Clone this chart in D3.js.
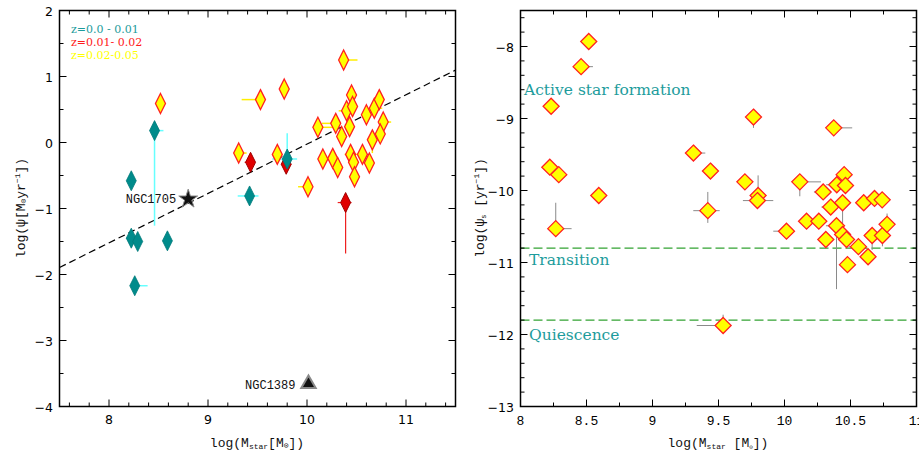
<!DOCTYPE html>
<html><head><meta charset="utf-8">
<script src="https://cdn.jsdelivr.net/npm/d3@7"></script>
<style>body{margin:0;background:#fff}svg{display:block}</style>
</head><body><svg id="c" width="919" height="452"></svg>
<script>
// ---------- Data (left panel: SFR vs stellar mass) ----------
const leftXTicks = [8, 9, 10, 11];
const leftYTicks = [-4, -3, -2, -1, 0, 1, 2];
// z = 0.0-0.01 : [x, y, xErrMinus, xErrPlus, yErrMinus, yErrPlus]
const tealPts = [
  [8.46, 0.18, 0, 0.09, 1.44, 0],
  [8.225, -0.58, 0, 0, 0, 0],
  [8.225, -1.45, 0, 0, 0, 0],
  [8.29, -1.50, 0, 0, 0, 0],
  [8.59, -1.49, 0, 0, 0, 0],
  [9.42, -0.81, 0.12, 0.09, 0, 0],
  [9.80, -0.25, 0.15, 0.10, 0.11, 0.39],
  [8.26, -2.17, 0, 0.13, 0, 0]
];
// z = 0.01-0.02
const redPts = [
  [9.43, -0.30, 0.06, 0, 0, 0],
  [9.79, -0.33, 0, 0, 0, 0],
  [10.39, -0.91, 0.08, 0.06, 0.77, 0]
];
// z = 0.02-0.05
const yellowPts = [
  [8.52, 0.59, 0, 0, 0, 0],
  [9.53, 0.65, 0.19, 0, 0, 0],
  [9.77, 0.81, 0, 0, 0.05, 0],
  [10.37, 1.25, 0, 0.14, 0, 0],
  [10.45, 0.72, 0, 0, 0, 0],
  [10.40, 0.48, 0.08, 0, 0, 0],
  [10.46, 0.545, 0, 0, 0.15, 0],
  [10.60, 0.42, 0, 0, 0, 0],
  [10.68, 0.52, 0, 0.08, 0, 0],
  [10.73, 0.65, 0, 0, 0, 0],
  [10.77, 0.31, 0, 0.08, 0, 0],
  [10.74, 0.13, 0, 0, 0, 0],
  [10.66, 0.04, 0, 0, 0.2, 0],
  [10.43, 0.24, 0, 0, 0.1, 0],
  [10.29, 0.29, 0.14, 0, 0, 0],
  [10.35, 0.09, 0, 0, 0, 0],
  [10.11, 0.23, 0, 0.17, 0, 0],
  [9.31, -0.16, 0, 0.08, 0, 0],
  [9.70, -0.18, 0, 0, 0, 0],
  [10.16, -0.25, 0.04, 0, 0, 0],
  [10.26, -0.24, 0, 0, 0, 0.12],
  [10.31, -0.38, 0, 0, 0, 0],
  [10.44, -0.18, 0.06, 0, 0, 0],
  [10.47, -0.30, 0, 0, 0, 0],
  [10.56, -0.18, 0.1, 0, 0, 0],
  [10.63, -0.31, 0, 0, 0, 0],
  [10.48, -0.52, 0, 0, 0.12, 0],
  [10.01, -0.67, 0.1, 0, 0, 0]
];
const specialPts = [
  {name: "NGC1705", x: 8.80, y: -0.857, shape: "star"},
  {name: "NGC1389", x: 10.015, y: -3.67, shape: "triangle"}
];
const fitLine = [[7.5, -1.894], [11.5, 1.097]];
const legendItems = [
  {text: "z=0.0 - 0.01", color: "#1d9c9c"},
  {text: "z=0.01- 0.02", color: "#ff1a1a"},
  {text: "z=0.02-0.05", color: "#ffff00"}
];

// ---------- Data (right panel: sSFR vs stellar mass) ----------
const rightXTicks = [8, 8.5, 9, 9.5, 10, 10.5, 11];
const rightXTickLabels = ["8", "8.5", "9", "9.5", "10", "10.5", "11"];
const rightYTicks = [-13, -12, -11, -10, -9, -8];
// [x, y, xErrMinus, xErrPlus, yErrMinus, yErrPlus]
const ssfrPts = [
  [8.517, -7.93, 0, 0, 0, 0],
  [8.459, -8.28, 0, 0.09, 0, 0],
  [8.232, -8.83, 0, 0, 0, 0],
  [9.765, -8.98, 0, 0, 0.15, 0],
  [10.373, -9.13, 0, 0.14, 0, 0],
  [9.31, -9.48, 0, 0.09, 0.1, 0],
  [8.222, -9.676, 0, 0, 0, 0],
  [8.29, -9.78, 0, 0, 0, 0],
  [8.593, -10.07, 0, 0, 0, 0],
  [8.267, -10.53, 0, 0.12, 0, 0.36],
  [9.439, -9.73, 0.06, 0, 0, 0],
  [9.419, -10.28, 0.11, 0.09, 0.17, 0.26],
  [9.70, -9.88, 0, 0, 0, 0],
  [9.80, -10.07, 0, 0, 0, 0.28],
  [9.795, -10.14, 0.11, 0.12, 0, 0],
  [10.015, -10.565, 0.1, 0, 0, 0],
  [10.116, -9.88, 0, 0.16, 0.2, 0],
  [10.167, -10.426, 0, 0, 0, 0],
  [10.26, -10.426, 0, 0, 0, 0],
  [10.293, -10.02, 0.07, 0, 0, 0],
  [10.313, -10.68, 0, 0, 0, 0],
  [10.35, -10.23, 0.07, 0, 0, 0],
  [10.394, -10.49, 0.08, 0, 0.88, 0],
  [10.396, -9.92, 0.08, 0, 0, 0],
  [10.44, -10.17, 0, 0, 0.3, 0],
  [10.452, -9.78, 0, 0, 0, 0],
  [10.462, -9.93, 0, 0, 0, 0],
  [10.44, -10.61, 0, 0, 0, 0],
  [10.47, -10.68, 0, 0, 0, 0],
  [10.56, -10.78, 0.07, 0, 0, 0],
  [10.477, -11.03, 0, 0, 0, 0],
  [10.60, -10.17, 0, 0, 0, 0],
  [10.633, -10.92, 0, 0, 0, 0],
  [10.664, -10.625, 0, 0, 0.2, 0],
  [10.682, -10.11, 0, 0, 0.1, 0],
  [10.74, -10.13, 0, 0.04, 0, 0],
  [10.742, -10.625, 0, 0, 0.15, 0],
  [10.777, -10.47, 0, 0, 0, 0.15],
  [9.535, -11.875, 0.2, 0, 0, 0.15]
];
const regimeLines = [-10.8, -11.8];
const regimeLabels = [
  {text: "Active star formation", y: -8.68},
  {text: "Transition", y: -11.04},
  {text: "Quiescence", y: -12.08}
];

// ---------- Drawing ----------
const svg = d3.select("#c");
const monoFont = "'Liberation Mono', 'DejaVu Sans Mono', monospace";
const sansFont = "'DejaVu Sans', sans-serif";
const serifFont = "'DejaVu Serif', 'Liberation Serif', serif";

function frame(g, x, y, xMinorStep, yMinorStep, xTicks, yTicks) {
  const [x0, x1] = x.range(), [y0, y1] = y.range();
  const xd = x.domain(), yd = y.domain();
  const xMinor = d3.range(Math.ceil(xd[0] / xMinorStep - 1e-9) * xMinorStep, xd[1] + 1e-9, xMinorStep);
  const yMinor = d3.range(Math.ceil(yd[0] / yMinorStep - 1e-9) * yMinorStep, yd[1] + 1e-9, yMinorStep);
  const t = g.append("g").attr("stroke", "#000").attr("stroke-width", 1);
  const isMaj = (v, arr) => arr.some(a => Math.abs(a - v) < 1e-6);
  xMinor.forEach(v => {
    const L = isMaj(v, xTicks) ? 7 : 4;
    t.append("line").attr("x1", x(v)).attr("x2", x(v)).attr("y1", y0).attr("y2", y0 - L);
    t.append("line").attr("x1", x(v)).attr("x2", x(v)).attr("y1", y1).attr("y2", y1 + L);
  });
  yMinor.forEach(v => {
    const L = isMaj(v, yTicks) ? 7 : 4;
    t.append("line").attr("y1", y(v)).attr("y2", y(v)).attr("x1", x0).attr("x2", x0 + L);
    t.append("line").attr("y1", y(v)).attr("y2", y(v)).attr("x1", x1).attr("x2", x1 - L);
  });
  g.append("rect").attr("x", x0).attr("y", y1).attr("width", x1 - x0).attr("height", y0 - y1)
    .attr("fill", "none").attr("stroke", "#000").attr("stroke-width", 1.5);
}

function errorBars(g, pts, x, y, color, w) {
  const eb = g.append("g").attr("stroke", color).attr("stroke-width", w);
  pts.forEach(p => {
    const [px, py, xm, xp, ym, yp] = p;
    if (xm || xp) eb.append("line").attr("x1", x(px - xm)).attr("x2", x(px + xp)).attr("y1", y(py)).attr("y2", y(py));
    if (ym || yp) eb.append("line").attr("x1", x(px)).attr("x2", x(px)).attr("y1", y(py - ym)).attr("y2", y(py + yp));
  });
}

function diamonds(g, pts, x, y, hw, hh, fill, stroke, sw) {
  g.append("g").selectAll("path").data(pts).join("path")
    .attr("d", d => `M${x(d[0])},${y(d[1]) - hh}L${x(d[0]) + hw},${y(d[1])}L${x(d[0])},${y(d[1]) + hh}L${x(d[0]) - hw},${y(d[1])}Z`)
    .attr("fill", fill).attr("stroke", stroke).attr("stroke-width", sw);
}

// ===== Left panel =====
{
  const g = svg.append("g");
  const x = d3.scaleLinear().domain([7.5, 11.5]).range([59.5, 455.5]);
  const y = d3.scaleLinear().domain([-4, 2]).range([406.5, 10.5]);

  g.append("line").attr("x1", x(fitLine[0][0])).attr("y1", y(fitLine[0][1]))
    .attr("x2", x(fitLine[1][0])).attr("y2", y(fitLine[1][1]))
    .attr("stroke", "#000").attr("stroke-width", 1.2).attr("stroke-dasharray", "7,4");

  errorBars(g, yellowPts, x, y, "#ffee00", 1.5);
  errorBars(g, tealPts, x, y, "#66ffff", 1.5);
  errorBars(g, redPts, x, y, "#ee2020", 1.2);

  diamonds(g, yellowPts, x, y, 5, 10, "#ffff00", "#ff2020", 1.3);
  diamonds(g, redPts, x, y, 5, 10, "#e00000", "#a00000", 1);
  diamonds(g, tealPts, x, y, 5, 10, "#008b8b", "#007a7a", 0.8);

  specialPts.forEach(s => {
    const cx = x(s.x), cy = y(s.y);
    if (s.shape === "star") {
      g.append("path").attr("d", d3.symbol(d3.symbolStar, 110)())
        .attr("transform", `translate(${cx},${cy})`).attr("fill", "#111").attr("stroke", "#888").attr("stroke-width", 1);
      g.append("text").attr("x", cx - 12).attr("y", cy + 4).attr("text-anchor", "end")
        .attr("font-family", monoFont).attr("font-size", 12).attr("fill", "#111").text(s.name);
    } else {
      g.append("path").attr("d", d3.symbol(d3.symbolTriangle, 90)())
        .attr("transform", `translate(${cx},${cy - 1})`).attr("fill", "#111").attr("stroke", "#888").attr("stroke-width", 2);
      g.append("text").attr("x", cx - 13).attr("y", cy + 4).attr("text-anchor", "end")
        .attr("font-family", monoFont).attr("font-size", 12).attr("fill", "#111").text(s.name);
    }
  });

  frame(g, x, y, 0.2, 0.5, leftXTicks, leftYTicks);

  g.append("g").selectAll("text").data(leftXTicks).join("text")
    .attr("x", d => x(d)).attr("y", 424).attr("text-anchor", "middle")
    .attr("font-family", sansFont).attr("font-size", 12.5).text(d => d);
  g.append("g").selectAll("text").data(leftYTicks).join("text")
    .attr("x", 53).attr("y", d => y(d) + 5).attr("text-anchor", "end")
    .attr("font-family", sansFont).attr("font-size", 12.5).text(d => d < 0 ? "\u2212" + Math.abs(d) : d);

  legendItems.forEach((l, i) => {
    g.append("text").attr("x", 71).attr("y", 33 + i * 13).attr("font-family", serifFont)
      .attr("font-size", 11).attr("fill", l.color).text(l.text);
  });

  const xt = g.append("text").attr("x", 257).attr("y", 447).attr("text-anchor", "middle")
    .attr("font-family", monoFont).attr("font-size", 13).attr("fill", "#111");
  xt.append("tspan").text("log(M");
  xt.append("tspan").attr("font-size", 8).attr("dy", 2).text("star");
  xt.append("tspan").attr("dy", -2).text("[M");
  xt.append("tspan").attr("font-size", 8).attr("dy", 1).text("\u2299");
  xt.append("tspan").attr("dy", -1).text("])");

  const yt = g.append("text").attr("transform", "translate(25,208) rotate(-90)").attr("text-anchor", "middle")
    .attr("font-family", monoFont).attr("font-size", 13).attr("fill", "#111");
  yt.append("tspan").text("log(\u03c8[M");
  yt.append("tspan").attr("font-size", 8).attr("dy", 1).text("\u2299");
  yt.append("tspan").attr("dy", -1).text("yr");
  yt.append("tspan").attr("font-size", 8).attr("dy", -5).text("\u22121");
  yt.append("tspan").attr("dy", 5).text("])");
}

// ===== Right panel =====
{
  const g = svg.append("g");
  const x = d3.scaleLinear().domain([8, 11]).range([520.5, 916.5]);
  const y = d3.scaleLinear().domain([-13, -7.5]).range([406.5, 10.5]);

  regimeLines.forEach(v => {
    g.append("line").attr("x1", x(8)).attr("x2", x(11)).attr("y1", y(v)).attr("y2", y(v))
      .attr("stroke", "#33a333").attr("stroke-width", 1.3).attr("stroke-dasharray", "9,4");
  });

  errorBars(g, ssfrPts, x, y, "#8a8a8a", 1);
  diamonds(g, ssfrPts, x, y, 8, 8, "#ffff00", "#ff2020", 1.3);

  regimeLabels.forEach((l, i) => {
    g.append("text").attr("x", i === 0 ? 524 : 529).attr("y", y(l.y)).attr("font-family", serifFont)
      .attr("font-size", 15.5).attr("fill", "#1d9c9c").text(l.text);
  });

  frame(g, x, y, 0.25, 0.2, rightXTicks, rightYTicks);

  g.append("g").selectAll("text").data(rightXTicks).join("text")
    .attr("x", d => x(d)).attr("y", 425).attr("text-anchor", "middle")
    .attr("font-family", monoFont).attr("font-size", 13).text((d, i) => rightXTickLabels[i]);
  g.append("g").selectAll("text").data(rightYTicks).join("text")
    .attr("x", 514).attr("y", d => y(d) + 5).attr("text-anchor", "end")
    .attr("font-family", sansFont).attr("font-size", 12.5).text(d => "\u2212" + Math.abs(d));

  const xt = g.append("text").attr("x", 718).attr("y", 447).attr("text-anchor", "middle")
    .attr("font-family", monoFont).attr("font-size", 13).attr("fill", "#111");
  xt.append("tspan").text("log(M");
  xt.append("tspan").attr("font-size", 8).attr("dy", 2).text("star");
  xt.append("tspan").attr("dy", -2).text(" [M");
  xt.append("tspan").attr("font-size", 6).attr("dy", 2).text("\u2299");
  xt.append("tspan").attr("dy", -2).text("])");

  const yt = g.append("text").attr("transform", "translate(484,208) rotate(-90)").attr("text-anchor", "middle")
    .attr("font-family", monoFont).attr("font-size", 13).attr("fill", "#111");
  yt.append("tspan").text("log(\u03c8");
  yt.append("tspan").attr("font-size", 7).attr("dy", 2).text("s");
  yt.append("tspan").attr("dy", -2).text(" [yr");
  yt.append("tspan").attr("font-size", 8).attr("dy", -5).text("\u22121");
  yt.append("tspan").attr("dy", 5).text("])");
}
</script></body></html>
